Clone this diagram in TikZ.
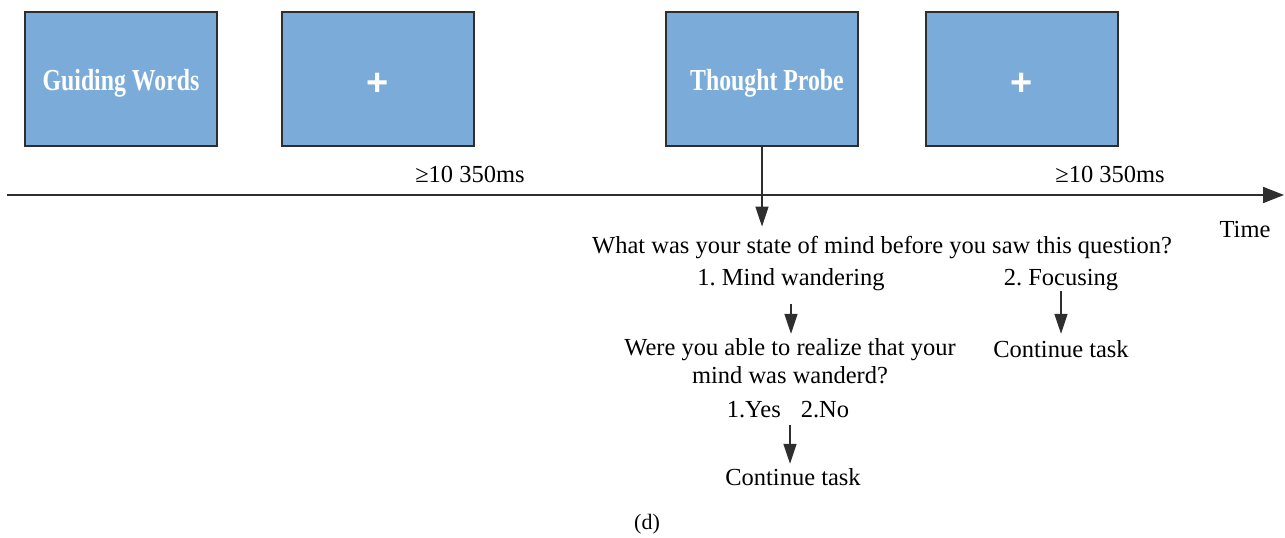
\documentclass[tikz,border=0pt]{standalone}
\usepackage{fontspec}
\setmainfont{Liberation Serif}
\newfontfamily\boxfont[FakeStretch=0.78]{Liberation Serif}
\newfontfamily\plusfont{Liberation Sans}
\usetikzlibrary{arrows.meta}
\definecolor{boxblue}{HTML}{7AABD9}
\definecolor{edge}{HTML}{2E2E2E}
\tikzset{
  screen/.style={draw=edge,line width=1.6pt,fill=boxblue,minimum width=192pt,minimum height=134pt,inner sep=0pt},
  boxtxt/.style={font=\boxfont\bfseries\fontsize{30.5}{36}\selectfont,text=white,anchor=base,inner sep=0pt},
  plustxt/.style={font=\plusfont\bfseries\fontsize{38}{38}\selectfont,text=white,anchor=base,inner sep=0pt},
  lbl/.style={font=\frenchspacing\fontsize{24.5}{28}\selectfont,inner sep=0pt,anchor=base},
  arr/.style={draw=edge,line width=1.5pt,-{Triangle[length=20pt,width=13pt]}},
}
\begin{document}
\begin{tikzpicture}[x=1pt,y=-1pt]
\useasboundingbox (0,0) rectangle (1285,538);
\node[screen] (gw) at (121,79) {};
\node[boxtxt] (gwt) at (121,90) {Guiding Words};
\node[screen] (fix1) at (378,79) {};
\node[plustxt] (p1) at (378,95) {+};
\node[screen] (tp) at (762,79) {};
\node[boxtxt] (tpt) at (767,90) {Thought Probe};
\node[screen] (fix2) at (1022,79) {};
\node[plustxt] (p2) at (1022,95) {+};
\node[lbl] (d1) at (470,182) {≥10 350ms};
\node[lbl] (d2) at (1110,182) {≥10 350ms};
\coordinate (tl0) at (7,195);
\coordinate (tl1) at (1284,195);
\draw[draw=edge,line width=1.8pt,-{Triangle[length=21pt,width=16pt]}] (tl0) -- (tl1);
\node[lbl] (time) at (1245,237) {Time};
\node[lbl] (q1) at (882,253) {What was your state of mind before you saw this question?};
\node[lbl] (mw) at (791,285) {1. Mind wandering};
\node[lbl] (fo) at (1061,285) {2. Focusing};
\node[lbl,align=center] (q2) at (790,383) {Were you able to realize that your\\mind was wanderd?};
\node[lbl] (ct1) at (1061,357) {Continue task};
\node[lbl] (yn) at (788,417) {1.Yes\hspace{20pt}2.No};
\node[lbl] (ct2) at (793,485) {Continue task};
\node[font=\fontsize{22}{26}\selectfont,inner sep=0pt,anchor=base] (cap) at (647,529) {(d)};
\draw[arr] (tp.south) -- ([yshift=9pt]q1.north -| tp.south);
\draw[arr] ([yshift=-14pt]mw.south) -- ([yshift=4pt]q2.north -| mw.south);
\draw[arr] ([yshift=-1pt]fo.south) -- ([yshift=6pt]ct1.north -| fo.south);
\draw[arr] ([yshift=-7pt]yn.south -| q2.south) -- ([yshift=4pt]ct2.north -| q2.south);
\end{tikzpicture}
\end{document}
